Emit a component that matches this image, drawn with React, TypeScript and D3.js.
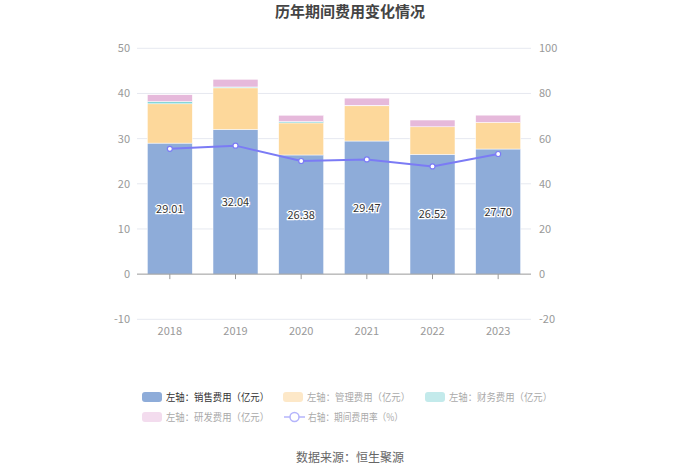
import React, { useEffect, useRef } from 'react';
import * as d3 from 'd3';

// values
const years = ['2018', '2019', '2020', '2021', '2022', '2023'];
const salesCost = [29.01, 32.04, 26.38, 29.47, 26.52, 27.7];
const mgmtCost = [8.7, 9.2, 7.1, 7.8, 6.1, 5.9];
const financeCost = [0.5, 0.2, 0.3, 0.1, 0.0, 0.0];
const rdCost = [1.5, 1.7, 1.4, 1.6, 1.5, 1.6];
const expenseRate = [55.5, 56.9, 50.1, 50.8, 47.7, 53.2];
const leftTicks = [-10, 0, 10, 20, 30, 40, 50];
const rightTicks = [-20, 0, 20, 40, 60, 80, 100];

const W = 700;
const H = 473;
const FONT = '"Noto Sans CJK SC", "Noto Sans", sans-serif';

const App = () => {
  const svgRef = useRef(null);

  useEffect(() => {
    const svg = d3.select(svgRef.current);
    svg.selectAll('*').remove();

    const x = d3.scaleBand().domain(years).range([137, 531]).paddingInner(0.315).paddingOuter(0.1575);
    const yL = d3.scaleLinear().domain([-10, 50]).range([319.3, 48.3]);
    const yR = d3.scaleLinear().domain([-20, 100]).range([319.3, 48.3]);

    // title
    svg.append('text')
      .attr('x', W / 2).attr('y', 17)
      .attr('text-anchor', 'middle')
      .attr('font-size', 15).attr('font-weight', 'bold')
      .attr('fill', '#444').attr('font-family', FONT)
      .text('历年期间费用变化情况');

    // grid lines
    svg.append('g').selectAll('line')
      .data(leftTicks.filter(t => t !== 0))
      .join('line')
      .attr('x1', 137).attr('x2', 531)
      .attr('y1', d => yL(d)).attr('y2', d => yL(d))
      .attr('stroke', '#e6e9f0').attr('stroke-width', 1);

    // left ticks
    svg.append('g').selectAll('text')
      .data(leftTicks)
      .join('text')
      .attr('x', 130).attr('y', d => yL(d) + 4)
      .attr('text-anchor', 'end')
      .attr('font-size', 11).attr('fill', '#999').attr('font-family', FONT)
      .text(d => d);

    // right ticks
    svg.append('g').selectAll('text')
      .data(rightTicks)
      .join('text')
      .attr('x', 539).attr('y', d => yR(d) + 4)
      .attr('text-anchor', 'start')
      .attr('font-size', 11).attr('fill', '#999').attr('font-family', FONT)
      .text(d => d);

    // stacked bars
    const stacks = [
      { values: salesCost, color: '#8eacd9' },
      { values: mgmtCost, color: '#fdd89b' },
      { values: financeCost, color: '#85d6d8' },
      { values: rdCost, color: '#e6b9db' },
    ];
    const base = years.map(() => 0);
    const barG = svg.append('g');
    stacks.forEach(s => {
      years.forEach((yr, i) => {
        const v = s.values[i];
        if (v <= 0) return;
        const y0 = base[i];
        const y1 = y0 + v;
        base[i] = y1;
        barG.append('rect')
          .attr('x', x(yr)).attr('width', x.bandwidth())
          .attr('y', yL(y1)).attr('height', yL(y0) - yL(y1))
          .attr('fill', s.color)
          .attr('stroke', '#fff').attr('stroke-width', 0.5);
      });
    });

    // zero axis line + ticks
    svg.append('line')
      .attr('x1', 137).attr('x2', 531)
      .attr('y1', yL(0)).attr('y2', yL(0))
      .attr('stroke', '#999').attr('stroke-width', 1);
    svg.append('g').selectAll('line')
      .data(years)
      .join('line')
      .attr('x1', d => x(d) + x.bandwidth() / 2).attr('x2', d => x(d) + x.bandwidth() / 2)
      .attr('y1', yL(0)).attr('y2', yL(0) + 5)
      .attr('stroke', '#999');

    // x labels
    svg.append('g').selectAll('text')
      .data(years)
      .join('text')
      .attr('x', d => x(d) + x.bandwidth() / 2).attr('y', 335)
      .attr('text-anchor', 'middle')
      .attr('font-size', 11).attr('fill', '#999').attr('font-family', FONT)
      .text(d => d);

    // sales labels
    svg.append('g').selectAll('text')
      .data(years)
      .join('text')
      .attr('x', d => x(d) + x.bandwidth() / 2)
      .attr('y', (d, i) => (yL(0) + yL(salesCost[i])) / 2 + 4)
      .attr('text-anchor', 'middle')
      .attr('font-size', 11).attr('fill', '#333').attr('font-family', FONT)
      .attr('stroke', '#fff').attr('stroke-width', 2.5).attr('paint-order', 'stroke')
      .text((d, i) => salesCost[i].toFixed(2));

    // rate line
    const cx = (i: number) => x(years[i]) + x.bandwidth() / 2;
    const line = d3.line<number>().x((d, i) => cx(i)).y(d => yR(d));
    svg.append('path')
      .attr('d', line(expenseRate))
      .attr('fill', 'none').attr('stroke', '#7b7bf5').attr('stroke-width', 2);
    svg.append('g').selectAll('circle')
      .data(expenseRate)
      .join('circle')
      .attr('cx', (d, i) => cx(i)).attr('cy', d => yR(d))
      .attr('r', 2.5)
      .attr('fill', '#fff').attr('stroke', '#7b7bf5').attr('stroke-width', 1.2);

    // legend
    const legendItems = [
      { label: '左轴：销售费用（亿元）', color: '#8eacd9', text: '#333', x: 142, y: 397, type: 'rect' },
      { label: '左轴：管理费用（亿元）', color: '#fde8c8', text: '#aaa', x: 283, y: 397, type: 'rect' },
      { label: '左轴：财务费用（亿元）', color: '#c3eaeb', text: '#aaa', x: 425, y: 397, type: 'rect' },
      { label: '左轴：研发费用（亿元）', color: '#f3dcee', text: '#aaa', x: 142, y: 417, type: 'rect' },
      { label: '右轴：期间费用率（%）', color: '#b4b4fb', text: '#aaa', x: 284, y: 417, type: 'line' },
    ];
    const lg = svg.append('g');
    legendItems.forEach(it => {
      if (it.type === 'rect') {
        lg.append('rect')
          .attr('x', it.x).attr('y', it.y - 5).attr('width', 20).attr('height', 10)
          .attr('rx', 3).attr('fill', it.color);
      } else {
        lg.append('line')
          .attr('x1', it.x).attr('x2', it.x + 21).attr('y1', it.y).attr('y2', it.y)
          .attr('stroke', it.color).attr('stroke-width', 1.5);
        lg.append('circle')
          .attr('cx', it.x + 10.5).attr('cy', it.y).attr('r', 4.5)
          .attr('fill', '#fff').attr('stroke', it.color).attr('stroke-width', 1.5);
      }
      lg.append('text')
        .attr('x', it.x + 24).attr('y', it.y + 4)
        .attr('font-size', 10).attr('fill', it.text).attr('font-family', FONT)
        .attr('textLength', it.type === 'rect' ? 103 : 95)
        .attr('lengthAdjust', 'spacingAndGlyphs')
        .text(it.label);
    });

    // source
    svg.append('text')
      .attr('x', W / 2).attr('y', 462)
      .attr('text-anchor', 'middle')
      .attr('font-size', 12).attr('fill', '#666').attr('font-family', FONT)
      .text('数据来源：恒生聚源');
  }, []);

  return (
    <svg
      ref={svgRef}
      width={W}
      height={H}
      style={{ position: 'absolute', left: 0, top: 0, background: '#fff' }}
    />
  );
};

export default App;
